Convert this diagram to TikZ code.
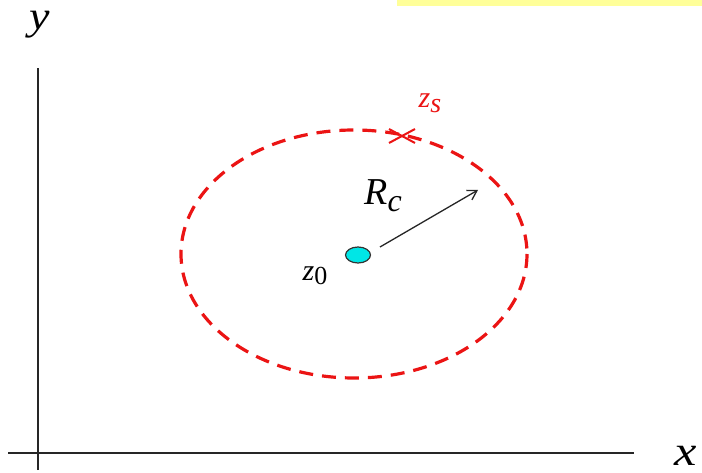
\documentclass[tikz,border=0pt]{standalone}
\usepackage{fontspec}
\setmainfont{Liberation Serif}
\usetikzlibrary{arrows.meta,shapes.geometric,calc}
\definecolor{barYellow}{RGB}{255,255,153}
\definecolor{dotCyan}{RGB}{0,230,230}
\definecolor{cRed}{RGB}{235,20,20}
\tikzset{
  axis/.style={line width=1.3pt, black!85},
  lbl/.style={inner sep=0pt, anchor=base},
}
\begin{document}
\begin{tikzpicture}[x=1pt,y=-1pt]
\useasboundingbox (0,0) rectangle (702,473);
\fill[barYellow] (397,0) rectangle (702,6);
% axes
\coordinate (yb) at (38,470);
\coordinate (yt) at (38,68);
\coordinate (xl) at (8,453);
\coordinate (xr) at (634,453);
\draw[axis] (yb) -- (yt);
\draw[axis] (xl) -- (xr);
\node[lbl, font=\itshape\fontsize{40}{40}\selectfont, xscale=1.15] (ylab) at (40,30) {y};
\node[lbl, font=\itshape\fontsize{42}{42}\selectfont, xscale=1.2] (xlab) at (686,465) {x};
% circle
\coordinate (c) at (354,254);
\draw[cRed, line width=3.2pt, dash pattern=on 14pt off 9pt] (c) ellipse [x radius=173, y radius=124];
% center dot
\node[draw=black!80, fill=dotCyan, ellipse, minimum width=25pt, minimum height=16pt, inner sep=0pt, line width=1.2pt] (z0dot) at (358,255) {};
\node[lbl, font=\fontsize{30}{30}\selectfont] (z0) at (315,280) {\textit{z}\raisebox{-5pt}{\fontsize{26}{26}\selectfont 0}};
% arrow
\coordinate (atip) at (478,190);
\draw[-{Straight Barb[length=9pt,width=11pt]}, line width=1.3pt, black!85] (380,247) -- (atip);
\node[lbl, font=\fontsize{38}{38}\selectfont] (Rc) at (383,205) {\textit{R}\raisebox{-7pt}{\fontsize{32}{32}\selectfont\textit{c}}};
% cross zs
\coordinate (zs) at (402,136);
\draw[cRed, line width=2pt] ($(zs)+(-13,-7)$) -- ($(zs)+(13,7)$);
\draw[cRed, line width=2pt] ($(zs)+(-13,7)$) -- ($(zs)+(13,-7)$);
\node[lbl, text=cRed, font=\fontsize{30}{30}\selectfont] (zslab) at (430,108) {\textit{z}\raisebox{-5pt}{\fontsize{28}{28}\selectfont\textit{s}}};
\end{tikzpicture}
\end{document}
